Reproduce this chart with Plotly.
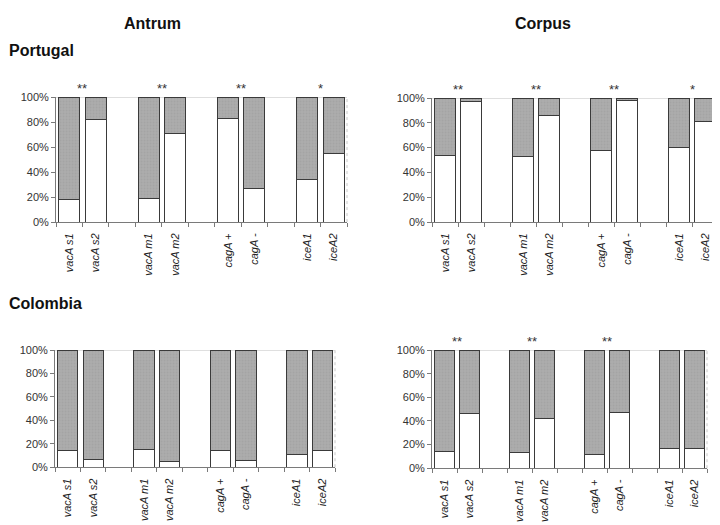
import plotly.graph_objects as go

# ---- data ----
labels = ["vacA s1", "vacA s2", "vacA m1", "vacA m2", "cagA +", "cagA -", "iceA1", "iceA2"]
label_html = ["<i>" + s + "</i>" for s in labels]

# white (lower) share, % of cases
portugal_antrum = [18, 82, 19, 71, 83, 27, 34, 55]
portugal_corpus = [54, 97, 53, 86, 58, 98, 60, 81]
colombia_antrum = [14, 7, 15, 5, 14, 6, 11, 14]
colombia_corpus = [14, 46, 13, 42, 12, 47, 17, 17]

# significance marks per gene group (vacA s, vacA m, cagA, iceA)
sig_portugal_antrum = ["**", "**", "**", "*"]
sig_portugal_corpus = ["**", "**", "**", "*"]
sig_colombia_antrum = ["", "", "", ""]
sig_colombia_corpus = ["**", "**", "**", ""]

column_titles = ["Antrum", "Corpus"]
row_titles = ["Portugal", "Colombia"]
y_ticks = [0, 20, 40, 60, 80, 100]
y_tick_labels = ["0%", "20%", "40%", "60%", "80%", "100%"]

# ---- layout helpers ----
OFF = 8  # page body margin
W, H = 720 - OFF, 525 - OFF
def fx(px):
    return (px - OFF) / W
def fy(py):
    return 1 - (py - OFF) / H

# bar slot positions: 4 groups of 2 bars, one empty slot between groups
pos = [g * 3 + m for g in range(4) for m in range(2)]
group_centers = [g * 3 + 0.5 for g in range(4)]

panels = [
    # (white values, sig, x px range, y px range)
    (portugal_antrum, sig_portugal_antrum, (56, 347), (93, 221)),
    (portugal_corpus, sig_portugal_corpus, (432, 718), (94, 221)),
    (colombia_antrum, sig_colombia_antrum, (55, 335), (352, 472)),
    (colombia_corpus, sig_colombia_corpus, (432, 707), (352, 473)),
]

GRAY = "#acacac"
EDGE = "#3a3a3a"
AXC = "#7a7a7a"
FONT = "Liberation Sans, Arial, sans-serif"

fig = go.Figure()
annotations = []
shapes = []
layout = {}

for i, (white, sig, (x0, x1), (y0, y1)) in enumerate(panels):
    n = "" if i == 0 else str(i + 1)
    xa, ya = "x" + n, "y" + n
    gray = [100 - v for v in white]
    fig.add_trace(go.Bar(x=pos, y=white, xaxis=xa, yaxis=ya, width=0.8,
                         marker=dict(color="white", line=dict(color=EDGE, width=1)),
                         showlegend=False, hoverinfo="skip"))
    fig.add_trace(go.Bar(x=pos, y=gray, xaxis=xa, yaxis=ya, width=0.8,
                         marker=dict(color=GRAY, line=dict(color=EDGE, width=1),
                                     pattern=dict(shape=".", fgcolor="#9c9c9c", bgcolor=GRAY,
                                                  size=3, solidity=0.3)),
                         showlegend=False, hoverinfo="skip"))
    layout["xaxis" + n] = dict(
        domain=[fx(x0), fx(x1)], anchor=ya, range=[-0.5, 10.5],
        tickmode="array", tickvals=pos, ticktext=label_html, tickangle=-90,
        ticks="", ticklabelstandoff=6, showline=True, linecolor=AXC, linewidth=1,
        showgrid=False, zeroline=False, tickfont=dict(family=FONT, size=11, color="#222"),
        minor=dict(tickmode="linear", tick0=-0.5, dtick=1, ticks="outside",
                   ticklen=4, tickcolor=AXC, tickwidth=1, showgrid=False),
        fixedrange=True,
    )
    layout["yaxis" + n] = dict(
        domain=[fy(y1), fy(y0)], anchor=xa, range=[0, 100],
        tickmode="array", tickvals=y_ticks, ticktext=y_tick_labels,
        ticks="outside", ticklen=4, tickcolor=AXC, showline=True, linecolor=AXC,
        linewidth=1, showgrid=False, zeroline=False,
        tickfont=dict(family=FONT, size=11, color="#333"), fixedrange=True,
    )
    # top line at 100% and light right border
    shapes.append(dict(type="line", xref=xa + " domain", yref=ya, x0=0, x1=1, y0=100, y1=100,
                       line=dict(color="#c0c0c0", width=1), layer="below"))
    shapes.append(dict(type="line", xref=xa + " domain", yref=ya + " domain", x0=1, x1=1, y0=0, y1=1,
                       line=dict(color="#c8c8c8", width=1, dash="dot"), layer="below"))
    for c, s in zip(group_centers, sig):
        if s:
            annotations.append(dict(x=c, y=100, xref=xa, yref=ya, text=s, showarrow=False,
                                    yanchor="bottom", yshift=-1,
                                    font=dict(family=FONT, size=13, color="#333")))

# column titles (kept inside the paper)
for t, cx in zip(column_titles, [152, 543]):
    annotations.append(dict(x=fx(cx), y=1, xref="paper", yref="paper", text="<b>" + t + "</b>",
                            showarrow=False, xanchor="center", yanchor="top", borderpad=0,
                            font=dict(family=FONT, size=16, color="#111")))
# row titles
for t, cy in zip(row_titles, [45, 304]):
    annotations.append(dict(x=0, y=fy(cy), xref="paper", yref="paper", text="<b>" + t + "</b>",
                            showarrow=False, xanchor="left", yanchor="middle", borderpad=0,
                            font=dict(family=FONT, size=16, color="#111")))

fig.update_layout(
    width=W, height=H, margin=dict(l=0, r=0, t=0, b=0),
    barmode="stack", bargap=0.2,
    paper_bgcolor="white", plot_bgcolor="white",
    annotations=annotations, shapes=shapes,
    font=dict(family=FONT),
    **layout,
)

fig.write_html("out.html")
